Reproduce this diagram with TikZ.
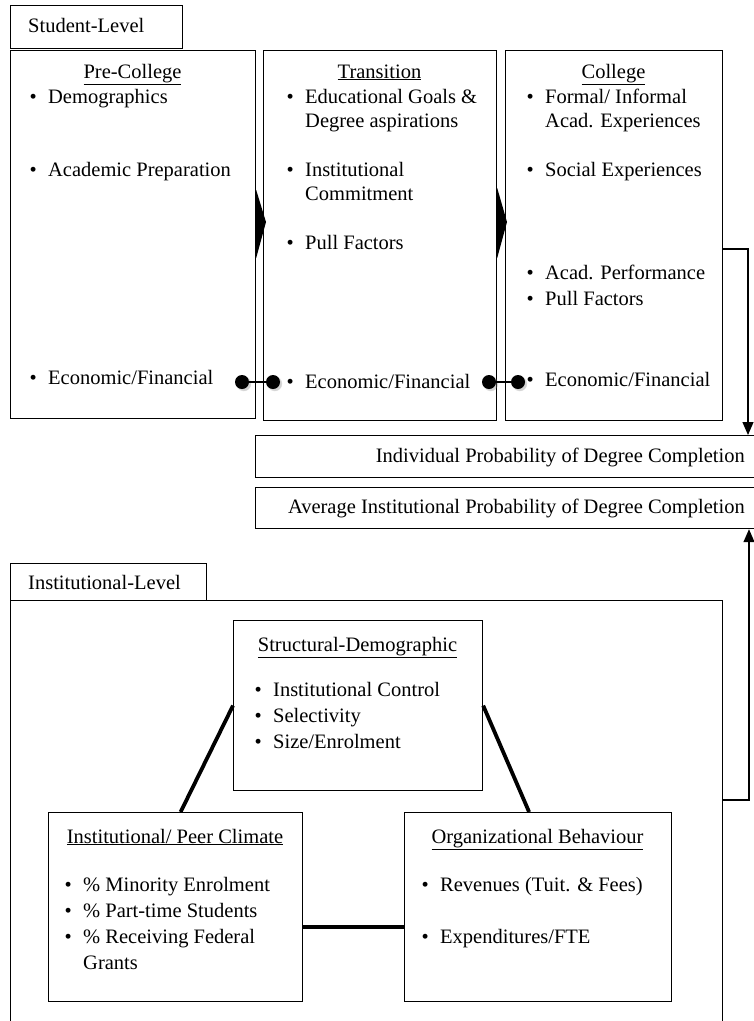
\documentclass[tikz,border=0pt]{standalone}
\usepackage{fontspec}
\setmainfont{Liberation Serif}
\usetikzlibrary{shadows,arrows.meta}
\newcommand\fs{\fontsize{20.5}{24}\selectfont}
\newcommand\bl[1]{\makebox[18.5pt][l]{\textbullet}#1}
\begin{document}
\begin{tikzpicture}[x=1pt,y=-1pt,
  box/.style={draw, line width=1.2pt, inner sep=0, anchor=north west},
  txt/.style={anchor=base west, inner sep=0, font=\fs},
  ttl/.style={anchor=base, inner sep=0, font=\fs},
  rtxt/.style={anchor=base east, inner sep=0, font=\fs},
  thk/.style={line width=3.8pt},
  conn/.style={line width=1.3pt},
  arr/.style={line width=1.3pt, -{Triangle[length=13pt,width=11pt]}},
  dot/.style={circle, fill=black, minimum size=14pt, inner sep=0,
    circular drop shadow={shadow xshift=1.5pt, shadow yshift=-1.5pt, opacity=0.35}},
  tri/.style={fill=black}]
\useasboundingbox (0,0) rectangle (754,1021);
\clip (0,0) rectangle (754,1021);
\fill[white] (0,0) rectangle (754,1021);

% ---------- Student level ----------
\node[box, minimum width=172pt, minimum height=43pt] (stab) at (10,5) {};
\node[txt] (stabt) at (28,32) {Student-Level};

\node[box, minimum width=245pt, minimum height=368pt] (pre) at (10,50) {};
\node[box, minimum width=233pt, minimum height=370pt] (tra) at (263,50) {};
\node[box, minimum width=217pt, minimum height=370pt] (col) at (505,50) {};

\node[ttl] (pret) at (132.5,78) {\underline{Pre-College}};
\node[txt] (pre1) at (29.5,103) {\bl{Demographics}};
\node[txt] (pre2) at (29.5,176) {\bl{Academic Preparation}};
\node[txt] (pre3) at (29.5,384) {\bl{Economic/Financial}};

\node[ttl] (trat) at (379.5,78) {\underline{Transition}};
\node[txt] (tra1) at (286.5,103) {\bl{Educational Goals \&}};
\node[txt] (tra1b) at (305,127) {Degree aspirations};
\node[txt] (tra2) at (286.5,176) {\bl{Institutional}};
\node[txt] (tra2b) at (305,200) {Commitment};
\node[txt] (tra3) at (286.5,249) {\bl{Pull Factors}};
\node[txt] (tra4) at (286.5,388) {\bl{Economic/Financial}};

\node[ttl] (colt) at (613.5,78) {\underline{College}};
\node[txt] (col1) at (526.5,103) {\bl{Formal/ Informal}};
\node[txt] (col1b) at (545,127) {Acad. Experiences};
\node[txt] (col2) at (526.5,176) {\bl{Social Experiences}};
\node[txt] (col3) at (526.5,279) {\bl{Acad. Performance}};
\node[txt] (col4) at (526.5,305) {\bl{Pull Factors}};
\node[txt] (col5) at (526.5,386) {\bl{Economic/Financial}};

% triangles between boxes
\fill[tri] (pre.east |- 0,190) -- (266,222) -- (pre.east |- 0,258) -- cycle;
\fill[tri] (tra.east |- 0,188) -- (507,222) -- (tra.east |- 0,258) -- cycle;

% dot connectors
\node[dot] (dA) at (242,382) {};
\node[dot] (dB) at (273,382) {};
\draw[conn] (dA) -- (dB);
\node[dot] (dC) at (489,382) {};
\node[dot] (dD) at (518,382) {};
\draw[conn] (dC) -- (dD);

% probability boxes
\node[box, minimum width=520pt, minimum height=42pt] (ind) at (255,435) {};
\node[rtxt] (indt) at (745,462) {Individual Probability of Degree Completion};
\node[box, minimum width=520pt, minimum height=41pt] (avg) at (255,487) {};
\node[rtxt] (avgt) at (745,513) {Average Institutional Probability of Degree Completion};

\coordinate (rA) at (748,249);
\draw[arr] (col.east |- rA) -- (rA) -- (rA |- ind.north);

% ---------- Institutional level ----------
\node[box, minimum width=196pt, minimum height=37pt] (itab) at (10,563) {};
\node[txt] (itabt) at (28,589) {Institutional-Level};
\node[box, minimum width=712pt, minimum height=520pt] (ifr) at (10,600) {};

\coordinate (rB) at (749,800);
\draw[arr] (ifr.east |- rB) -- (rB) -- (rB |- avg.south);

\node[box, minimum width=249pt, minimum height=170pt] (str) at (233,620) {};
\node[ttl] (strt) at (357.5,651) {\underline{Structural-Demographic}};
\node[txt] (str1) at (254.5,696) {\bl{Institutional Control}};
\node[txt] (str2) at (254.5,722) {\bl{Selectivity}};
\node[txt] (str3) at (254.5,748) {\bl{Size/Enrolment}};

\node[box, minimum width=254pt, minimum height=189pt] (clim) at (48,812) {};
\node[ttl] (climt) at (175,843) {\underline{Institutional/ Peer Climate}};
\node[txt] (clim1) at (64.5,891) {\bl{\% Minority Enrolment}};
\node[txt] (clim2) at (64.5,917) {\bl{\% Part-time Students}};
\node[txt] (clim3) at (64.5,943) {\bl{\% Receiving Federal}};
\node[txt] (clim3b) at (83,969) {Grants};

\node[box, minimum width=267pt, minimum height=189pt] (org) at (404,812) {};
\node[ttl] (orgt) at (537.5,843) {\underline{Organizational Behaviour}};
\node[txt] (org1) at (421.5,891) {\bl{Revenues (Tuit. \& Fees)}};
\node[txt] (org2) at (421.5,943) {\bl{Expenditures/FTE}};

\draw[thk] (str.west) -- ([xshift=5pt]clim.north);
\draw[thk] (str.east) -- ([xshift=-9pt]org.north);
\draw[thk] ([yshift=-20pt]clim.east) -- ([yshift=-20pt]org.west);
\end{tikzpicture}
\end{document}
